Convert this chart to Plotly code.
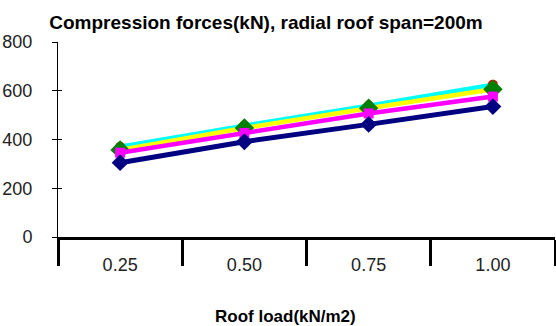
import plotly.graph_objects as go

categories = ["0.25", "0.50", "0.75", "1.00"]
navy_vals = [305, 391, 462, 535]
magenta_vals = [346, 427, 507, 576]
yellow_vals = [357, 447, 528, 606]
cyan_vals = [370, 457, 539, 625]

title_text = "Compression forces(kN), radial roof span=200m"
xaxis_title = "Roof load(kN/m2)"
y_ticks = [0, 200, 400, 600, 800]

W, H = 556, 326
fig = go.Figure()

# draw order: cyan (red markers), yellow (green diamonds), magenta, navy
fig.add_trace(go.Scatter(x=categories, y=cyan_vals, mode="lines+markers",
                         line=dict(color="#00FFFF", width=4.5),
                         marker=dict(symbol="circle", size=10, color="#FF0000"),
                         showlegend=False))
fig.add_trace(go.Scatter(x=categories, y=yellow_vals, mode="lines+markers",
                         line=dict(color="#FFFF00", width=4.5),
                         marker=dict(symbol="diamond", size=15, color="#008000"),
                         showlegend=False))
fig.add_trace(go.Scatter(x=categories, y=magenta_vals, mode="lines+markers",
                         line=dict(color="#FF00FF", width=4.5),
                         marker=dict(symbol="square", size=10, color="#FF00FF"),
                         showlegend=False))
fig.add_trace(go.Scatter(x=categories, y=navy_vals, mode="lines+markers",
                         line=dict(color="#000080", width=5),
                         marker=dict(symbol="diamond", size=13, color="#000080"),
                         showlegend=False))
# invisible trace to carry the label axis
fig.add_trace(go.Scatter(x=categories, y=[None]*4, xaxis="x2", yaxis="y",
                         mode="markers", showlegend=False, hoverinfo="skip"))
# invisible trace to carry the inner-tick y axis
fig.add_trace(go.Scatter(x=[None], y=[None], xaxis="x", yaxis="y2",
                         mode="markers", showlegend=False, hoverinfo="skip"))

font = "Arial, Liberation Sans, sans-serif"
fig.update_layout(
    width=W, height=H,
    margin=dict(l=58, r=1, t=42, b=89),
    paper_bgcolor="white", plot_bgcolor="white",
    title=dict(text="<b>" + title_text + "</b>", x=266 / W, xanchor="center",
               xref="container", y=1 - 22 / H, yanchor="middle", yref="container",
               font=dict(family=font, size=19, color="black")),
    xaxis=dict(type="category", categoryarray=categories, range=[-0.5, 3.5],
               tickson="boundaries", ticks="outside", ticklen=26, tickwidth=3,
               tickcolor="black", showline=True, linewidth=3, linecolor="black",
               showgrid=False, zeroline=False, showticklabels=False),
    xaxis2=dict(type="category", categoryarray=categories, range=[-0.5, 3.5],
                overlaying="x", side="bottom", anchor="y", ticks="",
                showline=False, showgrid=False, zeroline=False,
                ticklabelstandoff=15,
                tickfont=dict(family=font, size=18, color="#222")),
    yaxis=dict(range=[0, 800], tickvals=y_ticks, ticks="outside", ticklen=5,
               tickcolor="black", showline=True, linewidth=1, linecolor="black",
               showgrid=False, zeroline=False, ticklabelstandoff=16,
               tickfont=dict(family=font, size=18, color="#222")),
    yaxis2=dict(range=[0, 800], tickvals=y_ticks, ticks="inside", ticklen=4,
                tickcolor="black", overlaying="y", anchor="x", side="left",
                showline=False, showgrid=False, zeroline=False,
                showticklabels=False),
    annotations=[dict(text="<b>" + xaxis_title + "</b>", x=0.5, y=0,
                      xref="paper", yref="paper", xanchor="center", yanchor="middle",
                      showarrow=False,
                      font=dict(family=font, size=17, color="black"))],
)
pw = W - 58 - 1
ph = H - 42 - 89
ann = fig.layout.annotations[0]
ann.x = (285 - 58) / pw
ann.y = (H - 89 - 316) / ph

fig.write_html("out.html")
